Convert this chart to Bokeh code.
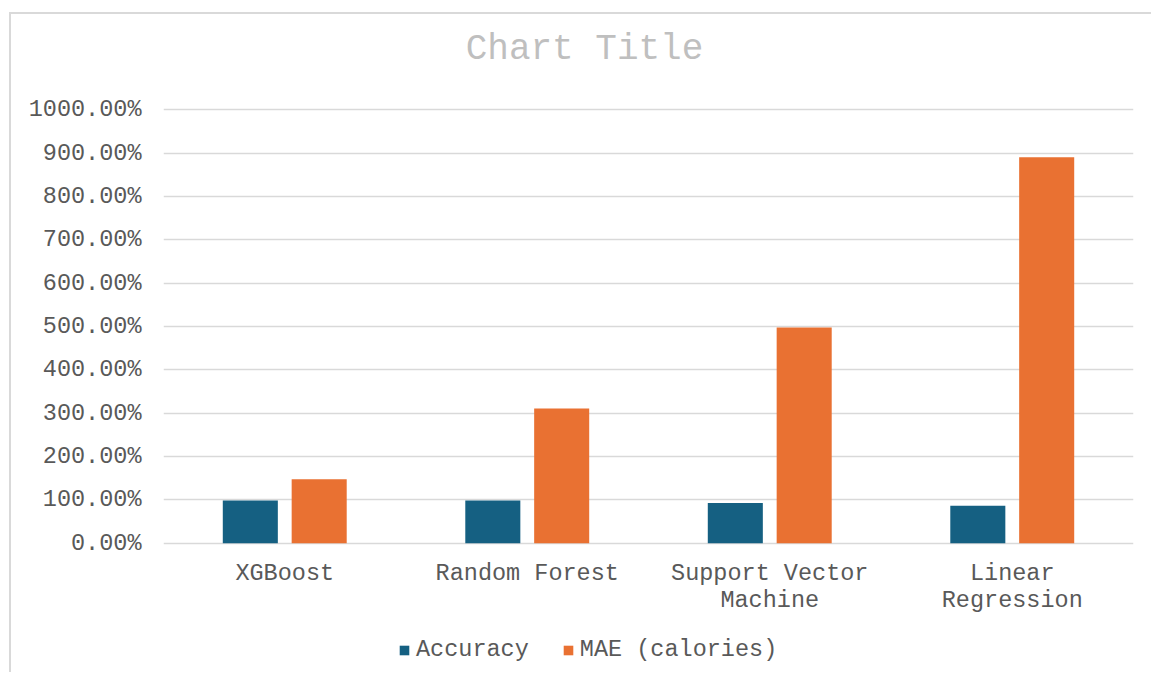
from bokeh.plotting import figure
from bokeh.models import ColumnDataSource, FactorRange, Range1d, FixedTicker, PrintfTickFormatter, Legend, LegendItem, Label
from bokeh.transform import dodge
from bokeh.embed import file_html
from bokeh.resources import INLINE

# category labels (line breaks as in the chart; single-line names keep an empty 2nd line)
models = ["XGBoost\n ", "Random Forest\n ", "Support Vector\nMachine", "Linear\nRegression"]
accuracy = [98.5, 98.5, 93.0, 86.5]          # percent
mae_calories = [147.5, 311.0, 498.0, 890.5]  # shown on the same percent axis
y_ticks = [0, 100, 200, 300, 400, 500, 600, 700, 800, 900, 1000]
series_names = ["Accuracy", "MAE (calories)"]
title_text = "Chart Title"

FONT = "Liberation Mono"
GREY = "#595959"
BLUE = "#156082"
ORANGE = "#E97132"

src = ColumnDataSource(dict(model=models, acc=accuracy, mae=mae_calories))

# frame fills the chart area vertically so title/legend live inside it
p = figure(width=1142, height=660, output_backend="svg", toolbar_location=None,
           x_range=FactorRange(*models, range_padding=0), y_range=Range1d(-302.9, 1219.9),
           min_border_left=152, min_border_right=20, min_border_top=0, min_border_bottom=0)
p.title.visible = False
p.x_range.factor_padding = 0
p.styles = {"border-left": "2px solid #d9d9d9", "border-top": "2px solid #d9d9d9",
            "margin-left": "9px", "margin-top": "12px"}

r1 = p.vbar(x=dodge("model", -0.142, range=p.x_range), top="acc", width=0.227, bottom=0,
            source=src, color=BLUE, line_color=None)
r2 = p.vbar(x=dodge("model", 0.142, range=p.x_range), top="mae", width=0.227, bottom=0,
            source=src, color=ORANGE, line_color=None)

p.outline_line_color = None
p.xgrid.grid_line_color = None
p.ygrid.grid_line_color = "#d9d9d9"
p.ygrid.grid_line_width = 1.4
p.ygrid.ticker = FixedTicker(ticks=y_ticks)

p.yaxis.ticker = FixedTicker(ticks=y_ticks)
p.yaxis.formatter = PrintfTickFormatter(format="%.2f%%")
for ax in (p.xaxis[0], p.yaxis[0]):
    ax.axis_line_color = None
    ax.major_tick_line_color = None
    ax.minor_tick_line_color = None
    ax.major_label_text_font = FONT
    ax.major_label_text_font_size = "23.5px"
    ax.major_label_text_color = GREY
p.yaxis.major_label_standoff = 16
p.xaxis.fixed_location = 0
p.xaxis.major_label_standoff = 11
p.xaxis.major_label_text_align = "left"
p.xaxis.major_label_text_line_height = 1.0

title = Label(x=421, y=625, x_units="screen", y_units="screen", text=title_text,
              text_font=FONT, text_font_size="36px", text_color="#bfbfbf",
              text_align="center", text_baseline="middle")
p.add_layout(title)

legend = Legend(items=[LegendItem(label=series_names[0], renderers=[r1]),
                       LegendItem(label=series_names[1], renderers=[r2])],
                location=(235, 11), orientation="horizontal",
                glyph_width=12, glyph_height=12, label_standoff=6, spacing=33,
                label_text_font=FONT, label_text_font_size="23.5px", label_text_color=GREY,
                label_height=24, padding=0, margin=0, border_line_color=None,
                background_fill_alpha=0)
p.add_layout(legend)

open("out.html", "w").write(file_html(p, INLINE))
